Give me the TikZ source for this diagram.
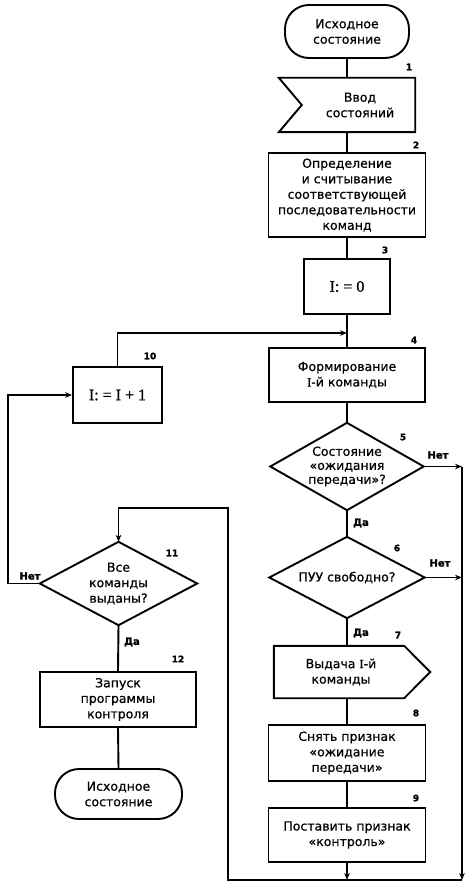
\documentclass[tikz,border=0pt]{standalone}
\usepackage{fontspec}
\setmainfont{DejaVu Sans}[FakeBold=1.6]
\newfontfamily\serifI{Liberation Serif}[FakeBold=1]
\newfontfamily\txtfont{DejaVu Sans}[FakeBold=0.6]
\usetikzlibrary{arrows.meta,calc}
\begin{document}
\begin{tikzpicture}[x=1pt,y=-1pt,
  line/.style={line width=1.9pt},
  arr/.style={line width=1.9pt,-{Stealth[length=7pt,width=5.5pt]}},
  txt/.style={font=\txtfont\fontsize{12.5}{15.5}\selectfont, align=center, inner sep=0pt},
  box/.style={draw, line width=1.9pt, txt},
  ghost/.style={txt},
  term/.style={box, rounded corners=24pt},
  num/.style={font=\bfseries\fontsize{9}{10}\selectfont, inner sep=0pt},
  yn/.style={font=\bfseries\fontsize{10}{11}\selectfont, inner sep=0pt},
  big/.style={font=\serifI\fontsize{16}{18}\selectfont}
]
\useasboundingbox (0,0) rectangle (472,890);

% main column
\node[term, minimum width=124pt, minimum height=53pt] (t1) at (347,31.5) {Исходное\\состояние};

\node[ghost, minimum width=136pt, minimum height=54pt] (b1) at (347,105) {};
\draw[line] (b1.north west) -- (b1.north east) -- (b1.south east) -- (b1.south west) -- ([xshift=23pt]b1.west) -- cycle;
\node[txt] (b1t) at (360,105) {Ввод\\состояний};

\node[box, minimum width=157pt, minimum height=84pt] (b2) at (347,195) {Определение\\и считывание\\соответствующей\\последовательности\\команд};

\node[box, big, minimum width=86pt, minimum height=55pt] (b3) at (347,286.5) {I: = 0};

\node[box, minimum width=156pt, minimum height=54pt] (b4) at (347,375) {Формирование\\{\serifI I}-й команды};

\node[ghost, minimum width=153pt, minimum height=87pt, font=\txtfont\fontsize{12.5}{14}\selectfont] (d5) at (347,466.5) {Состояние\\«ожидания\\передачи»?};
\draw[line] (d5.north) -- (d5.east) -- (d5.south) -- (d5.west) -- cycle;

\node[ghost, minimum width=155pt, minimum height=81pt] (d6) at (347,577.5) {ПУУ свободно?};
\draw[line] (d6.north) -- (d6.east) -- (d6.south) -- (d6.west) -- cycle;

\node[ghost, minimum width=156pt, minimum height=52pt] (b7) at (352,672) {};
\draw[line] (b7.north west) -- ([xshift=-26pt]b7.north east) -- (b7.east) -- ([xshift=-26pt]b7.south east) -- (b7.south west) -- cycle;
\node[txt] (b7t) at (341,672) {Выдача {\serifI I}-й\\команды};

\node[box, minimum width=157pt, minimum height=56pt] (b8) at (347,753) {Снять признак\\«ожидание\\передачи»};

\node[box, minimum width=157pt, minimum height=54pt] (b9) at (347,835) {Поставить признак\\«контроль»};

% left column
\node[box, big, minimum width=89pt, minimum height=56pt] (b10) at (117.5,395) {I: = I + 1};

\node[ghost, minimum width=157pt, minimum height=83pt] (d11) at (118.5,583.5) {Все\\команды\\выданы?};
\draw[line] (d11.north) -- (d11.east) -- (d11.south) -- (d11.west) -- cycle;

\node[box, minimum width=156pt, minimum height=55pt] (b12) at (118,699.5) {Запуск\\программы\\контроля};

\node[term, minimum width=127pt, minimum height=50pt] (t2) at (118.5,794) {Исходное\\состояние};

% helper coordinates
\coordinate (m) at (347,333);
\coordinate (rb) at (462,880);
\coordinate (lb) at (228,880);
\coordinate (lt) at (228,508);
\coordinate (lx) at (8,583);

% connectors main
\draw[line] (t1.south) -- (b1.north);
\draw[line] (b1.south) -- (b2.north);
\draw[line] (b2.south) -- (b3.north);
\draw[line] (b3.south) -- (b4.north);
\draw[line] (b4.south) -- (d5.north);
\draw[line] (d5.south) -- (d6.north);
\draw[line] (d6.south) -- (d6.south |- b7.north);
\draw[line] (d6.south |- b7.south) -- (b8.north);
\draw[line] (b8.south) -- (b9.north);
\draw[arr] (b9.south) -- (b9.south |- rb);

\draw[arr] (d5.east) -- (d5.east -| rb);
\draw[arr] (d6.east) -- (d6.east -| rb);
\draw[arr] (d5.east -| rb) -- (rb);
\draw[arr] (rb) -- (lb) -- (lt) -| (d11.north);

\draw[arr] (b10.north) |- (m);
\draw[arr] (d11.west) -- (d11.west -| lx) |- (b10.west);
\draw[line] (d11.south) -- (b12.north);
\draw[line] (b12.south) -- (t2.north);

% yes/no labels
\node[yn] (y5) at (361,523) {Да};
\node[yn] (y6) at (361,633) {Да};
\node[yn] (y11) at (132,642) {Да};
\node[yn] (n5) at (438,455) {Нет};
\node[yn] (n6) at (440,563) {Нет};
\node[yn] (n11) at (30,576) {Нет};

% numbers
\node[num] (l1) at (409,67) {1};
\node[num] (l2) at (416,145) {2};
\node[num] (l3) at (385,250) {3};
\node[num] (l4) at (414,340) {4};
\node[num] (l5) at (403,437) {5};
\node[num] (l6) at (397,548) {6};
\node[num] (l7) at (398,635) {7};
\node[num] (l8) at (416,713) {8};
\node[num] (l9) at (416,798) {9};
\node[num] (l10) at (150,356) {10};
\node[num] (l11) at (172,553) {11};
\node[num] (l12) at (178,659) {12};
\end{tikzpicture}
\end{document}
